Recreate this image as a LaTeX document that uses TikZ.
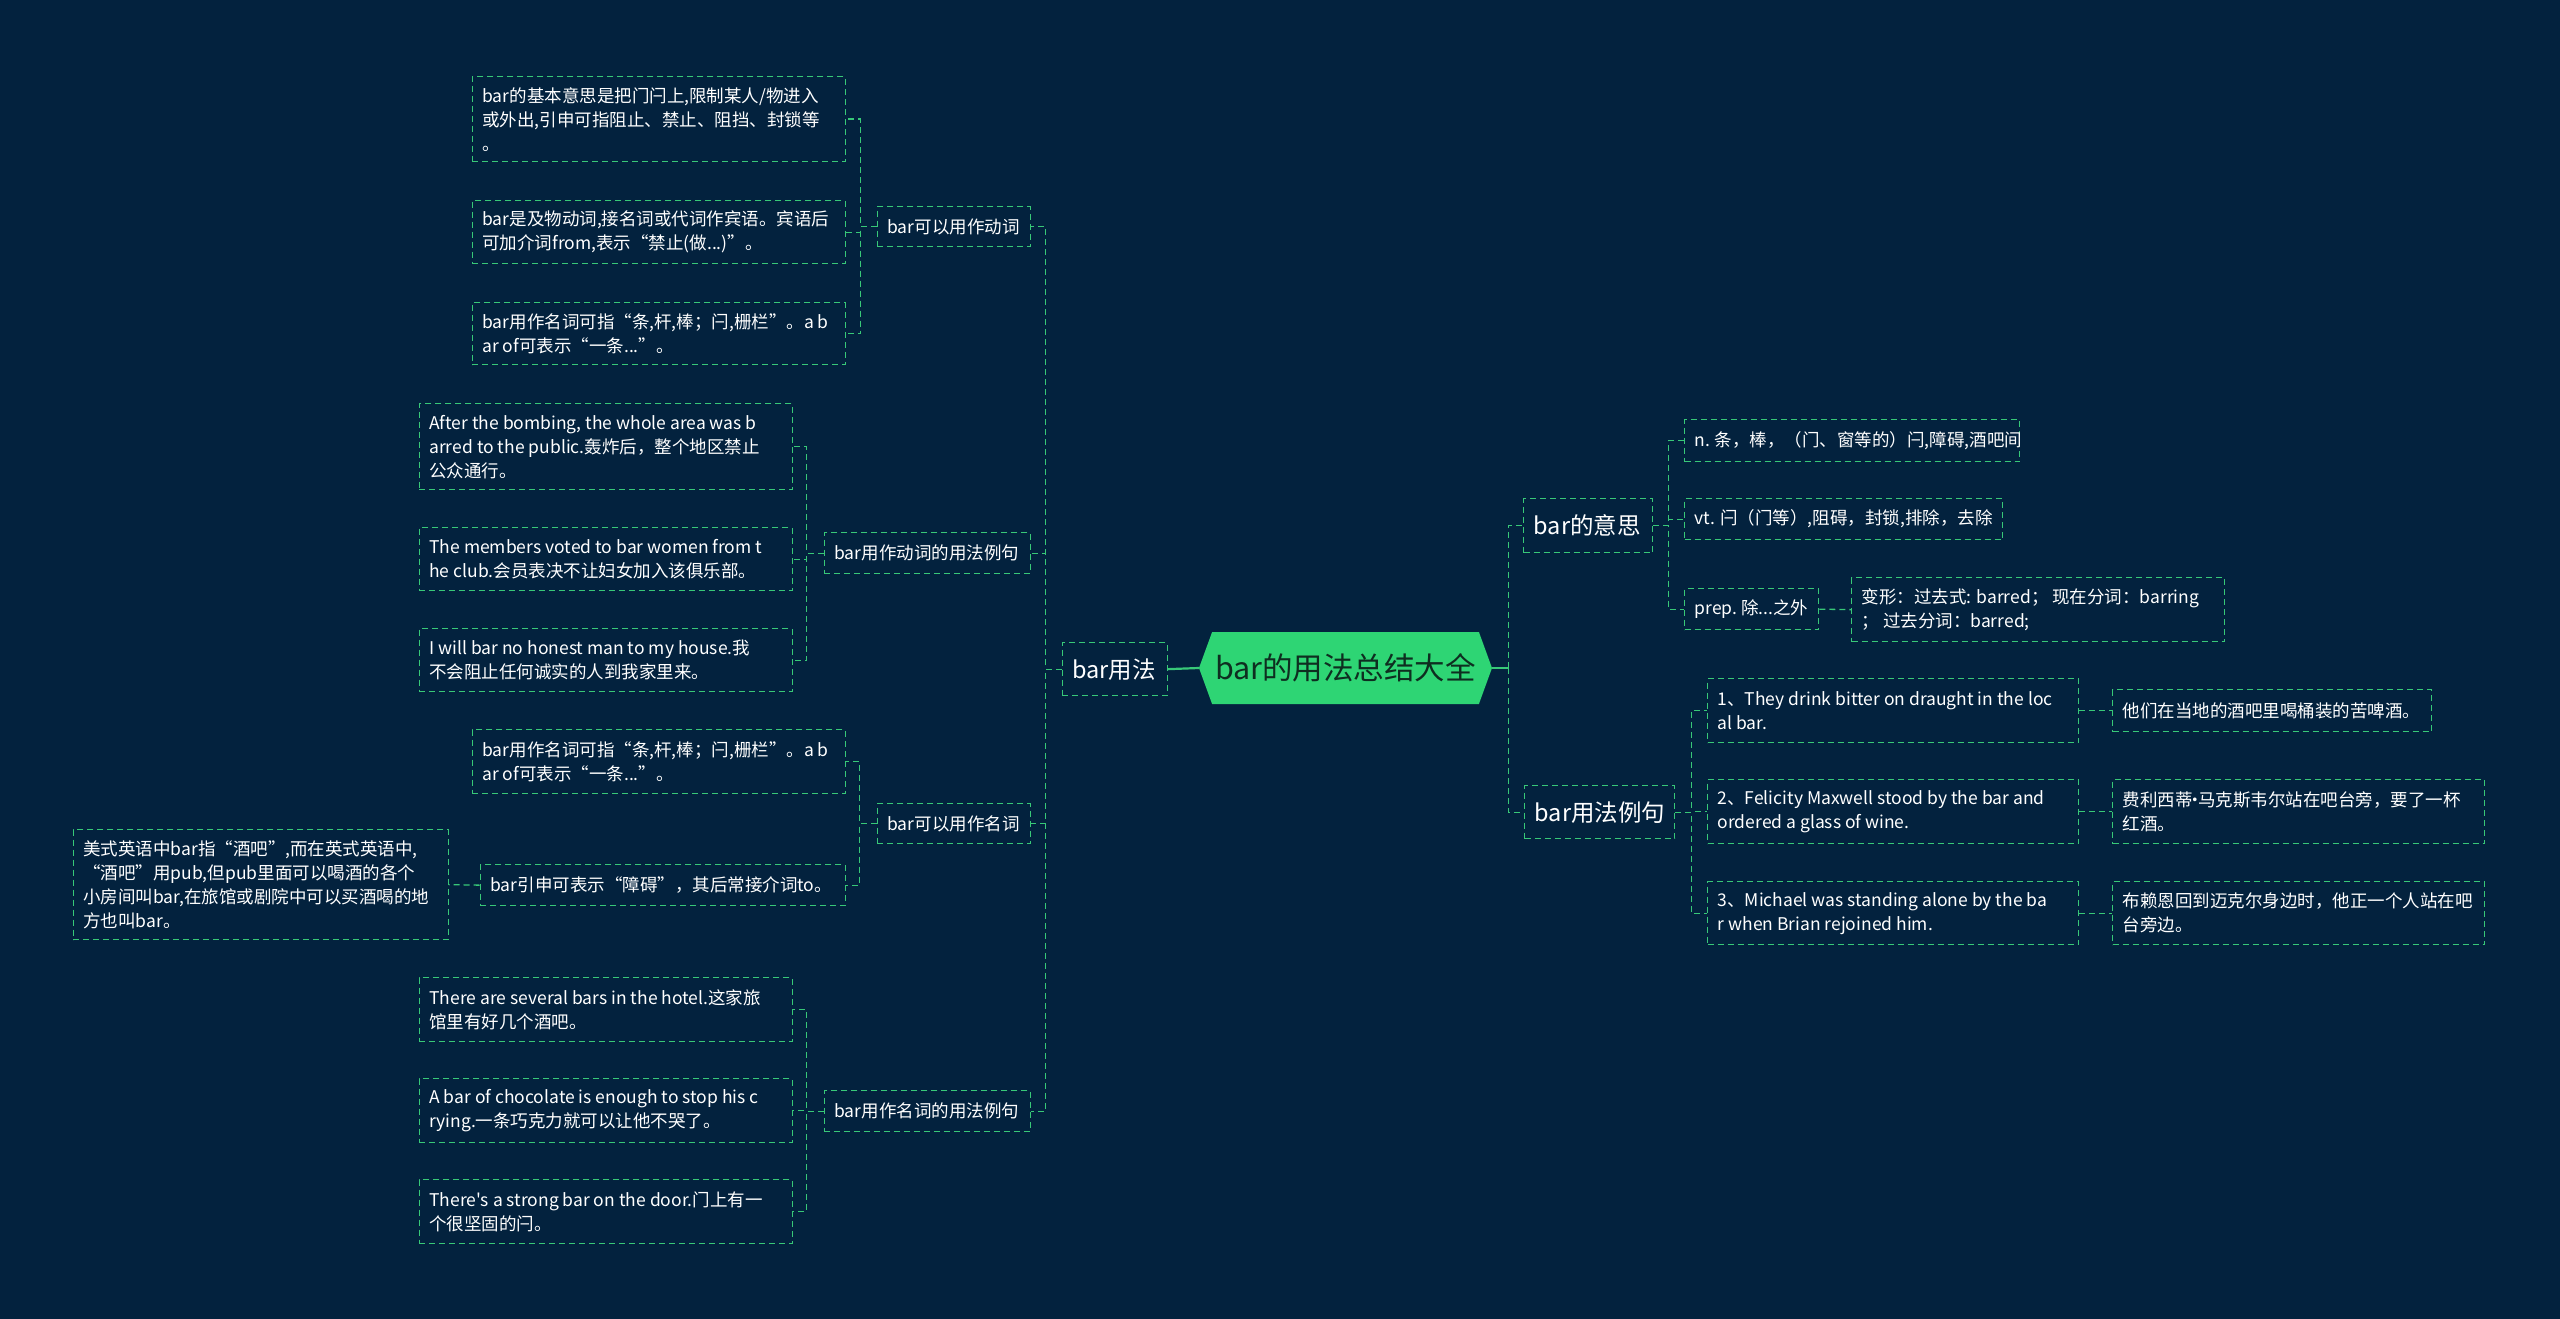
\documentclass[tikz,border=0pt]{standalone}
\usepackage{fontspec}
\setmainfont{Noto Sans CJK SC}[Ligatures=TeXOff]
\usetikzlibrary{shapes.symbols}
\definecolor{bgblue}{RGB}{3,34,62}
\definecolor{mapgreen}{RGB}{56,200,120}
\definecolor{rootgreen}{RGB}{46,213,116}
\definecolor{roottext}{RGB}{14,46,32}
\tikzset{
  box/.style={draw=mapgreen, line width=1.3pt, dash pattern=on 6pt off 4pt, text=white, align=left, inner xsep=10pt, inner ysep=4pt, font=\fontsize{17.5}{24}\selectfont, execute at begin node={\spaceskip=0pt\xspaceskip=0pt}},
  leafL/.style={box, anchor=north east},
  leafR/.style={box, anchor=north west},
  topic/.style={font=\fontsize{23.5}{28}\selectfont},
  link/.style={draw=mapgreen, line width=1.3pt, dash pattern=on 6pt off 4pt},
  trunk/.style={draw=mapgreen, line width=2.2pt},
  rootbox/.style={signal, signal to=east and west, signal pointer angle=140, fill=rootgreen, text=roottext, font=\fontsize{30.5}{34}\selectfont, minimum width=293pt, minimum height=72pt, inner sep=0pt},
}
\begin{document}
\begin{tikzpicture}[x=1pt,y=-1pt]
\fill[bgblue] (0,0) rectangle (2560,1319);
\node[rootbox] (root) at (1345.5,668) {bar的用法总结大全};
% left branch
\node[leafL, topic, text width=85pt, minimum height=53pt] (use) at (1168,642) {bar用法};
\node[leafL, text width=133pt, minimum height=40pt] (verb) at (1031,206) {bar可以用作动词};
\node[leafL, text width=186pt, minimum height=41pt] (verbex) at (1031,532) {bar用作动词的用法例句};
\node[leafL, text width=133pt, minimum height=40pt] (noun) at (1031,803) {bar可以用作名词};
\node[leafL, text width=186pt, minimum height=41pt] (nounex) at (1031,1090) {bar用作名词的用法例句};
\node[leafL, text width=353pt, minimum height=85pt] (a1) at (846,76) {bar的基本意思是把门闩上,限制某人/物进入\\或外出,引申可指阻止、禁止、阻挡、封锁等\\。};
\node[leafL, text width=353pt, minimum height=63pt] (a2) at (846,200) {bar是及物动词,接名词或代词作宾语。宾语后\\可加介词from,表示“禁止(做...)”。};
\node[leafL, text width=353pt, minimum height=62pt] (a3) at (846,302) {bar用作名词可指“条,杆,棒；闩,栅栏”。a b\\ar of可表示“一条...”。};
\node[leafL, text width=353pt, minimum height=86pt] (b1) at (793,403) {After the bombing, the whole area was b\\arred to the public.轰炸后，整个地区禁止\\公众通行。};
\node[leafL, text width=353pt, minimum height=63pt] (b2) at (793,527) {The members voted to bar women from t\\he club.会员表决不让妇女加入该俱乐部。};
\node[leafL, text width=353pt, minimum height=63pt] (b3) at (793,628) {I will bar no honest man to my house.我\\不会阻止任何诚实的人到我家里来。};
\node[leafL, text width=353pt, minimum height=64pt] (c1) at (846,729) {bar用作名词可指“条,杆,棒；闩,栅栏”。a b\\ar of可表示“一条...”。};
\node[leafL, text width=345pt, minimum height=41pt] (c2) at (846,864) {bar引申可表示“障碍”，其后常接介词to。};
\node[leafL, text width=355pt, minimum height=110pt] (c3) at (449,829) {美式英语中bar指“酒吧”,而在英式英语中,\\“酒吧”用pub,但pub里面可以喝酒的各个\\小房间叫bar,在旅馆或剧院中可以买酒喝的地\\方也叫bar。};
\node[leafL, text width=353pt, minimum height=64pt] (d1) at (793,977) {There are several bars in the hotel.这家旅\\馆里有好几个酒吧。};
\node[leafL, text width=353pt, minimum height=64pt] (d2) at (793,1078) {A bar of chocolate is enough to stop his c\\rying.一条巧克力就可以让他不哭了。};
\node[leafL, text width=353pt, minimum height=64pt] (d3) at (793,1179) {There's a strong bar on the door.门上有一\\个很坚固的闩。};
% right branch
\node[leafR, topic, text width=109pt, minimum height=54pt] (mean) at (1523,498) {bar的意思};
\node[leafR, topic, text width=130pt, minimum height=53pt] (ex) at (1524,785) {bar用法例句};
\node[leafR, text width=315pt, minimum height=42pt] (r1) at (1684,419) {n. 条，棒，（门、窗等的）闩,障碍,酒吧间};
\node[leafR, text width=298pt, minimum height=41pt] (r2) at (1684,498) {vt. 闩（门等）,阻碍，封锁,排除，去除};
\node[leafR, text width=114pt, minimum height=41pt] (r3) at (1684,588) {prep.~除...之外};
\node[leafR, text width=353pt, minimum height=64pt] (r4) at (1851,577) {变形：过去式: barred； 现在分词：barring\\； 过去分词：barred;};
\node[leafR, text width=351pt, minimum height=64pt] (e1) at (1707,678) {1、They drink bitter on draught in the loc\\al bar.};
\node[leafR, text width=351pt, minimum height=64pt] (e2) at (1707,779) {2、Felicity Maxwell stood by the bar and\\ordered a glass of wine.};
\node[leafR, text width=351pt, minimum height=63pt] (e3) at (1707,881) {3、Michael was standing alone by the ba\\r when Brian rejoined him.};
\node[leafR, text width=299pt, minimum height=42pt] (f1) at (2112,689) {他们在当地的酒吧里喝桶装的苦啤酒。};
\node[leafR, text width=352pt, minimum height=64pt] (f2) at (2112,779) {费利西蒂\kern-6pt·\kern-6pt马克斯韦尔站在吧台旁，要了一杯\\红酒。};
\node[leafR, text width=352pt, minimum height=63pt] (f3) at (2112,881) {布赖恩回到迈克尔身边时，他正一个人站在吧\\台旁边。};
% connectors
\draw[trunk] (root.west) -- (use.east);
\draw[trunk] (root.east) -- ++(16,0) coordinate (rbus);
\foreach \c in {verb,verbex,noun,nounex} \draw[link] (use.west) -- ++(-16,0) |- (\c.east);
\foreach \c in {a1,a2,a3} \draw[link] (verb.west) -- ++(-16,0) |- (\c.east);
\foreach \c in {b1,b2,b3} \draw[link] (verbex.west) -- ++(-17,0) |- (\c.east);
\foreach \c in {c1,c2} \draw[link] (noun.west) -- ++(-17,0) |- (\c.east);
\foreach \c in {d1,d2,d3} \draw[link] (nounex.west) -- ++(-17,0) |- (\c.east);
\draw[link] (c2.west) -- (c3.east);
\foreach \c in {mean,ex} \draw[link] (rbus) |- (\c.west);
\foreach \c in {r1,r2,r3} \draw[link] (mean.east) -- ++(15,0) |- (\c.west);
\draw[link] (r3.east) -- (r4.west);
\foreach \c in {e1,e2,e3} \draw[link] (ex.east) -- ++(16,0) |- (\c.west);
\draw[link] (e1.east) -- (f1.west);
\draw[link] (e2.east) -- (f2.west);
\draw[link] (e3.east) -- (f3.west);
\end{tikzpicture}
\end{document}
